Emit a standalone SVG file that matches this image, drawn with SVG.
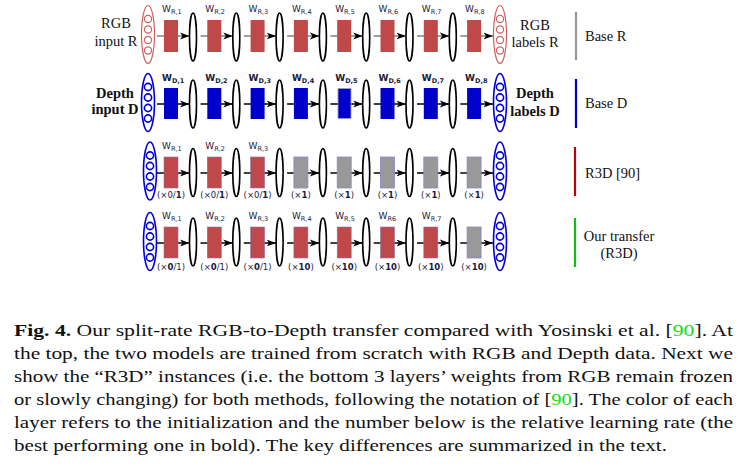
<svg xmlns="http://www.w3.org/2000/svg" xmlns:xlink="http://www.w3.org/1999/xlink" width="744" height="469" viewBox="0 0 744 469">
<style>
.bg{fill:#fff}
.lbl{font-family:"Liberation Serif","Times New Roman",serif;font-size:14.5px;fill:#111}
.lblb{font-family:"Liberation Serif","Times New Roman",serif;font-size:14.5px;font-weight:bold;fill:#111}
.w{font-family:"DejaVu Sans",sans-serif;font-size:9px;fill:#1a1a3a}
.wb{font-family:"DejaVu Sans",sans-serif;font-size:9px;font-weight:bold;fill:#1a1a3a}
.sub{font-size:6.5px}
.lr{font-family:"DejaVu Sans",sans-serif;font-size:8.5px;fill:#1a1a3a;text-anchor:middle}
.red{fill:#c04848}
.red2{fill:#c04848;stroke:#9070b0;stroke-width:0.6}
.blue{fill:#0000cc}
.gray{fill:#999;stroke:#8888cc;stroke-width:0.8}
.bel{fill:none;stroke:#000;stroke-width:1.6}
.inR{fill:none;stroke:#d06060;stroke-width:1.2}
.inB{fill:none;stroke:#0000dd;stroke-width:1.6}
.ag{stroke:#808080;stroke-width:1.6;fill:none;marker-end:url(#ah)}
.ak{stroke:#000;stroke-width:1.6;fill:none;marker-end:url(#ah)}
.cap{font-family:"Liberation Serif","Times New Roman",serif;font-size:17px;fill:#111}
.grn{fill:#10e010}
</style>
<defs>
<marker id="ah" markerUnits="userSpaceOnUse" markerWidth="10" markerHeight="8" refX="9.5" refY="4" orient="auto">
<path d="M0,0.5 L9.5,4 L0,7.5 L2.5,4 z" fill="#000"/>
</marker>
<ellipse id="bel" cx="0" cy="0" rx="3.5" ry="24" class="bel"/>
<g id="inRed"><ellipse cx="0" cy="0" rx="6.5" ry="29" class="inR"/><circle cx="0" cy="-15.5" r="3.6" class="inR"/><circle cx="0" cy="-5" r="3.6" class="inR"/><circle cx="0" cy="5.5" r="3.6" class="inR"/><circle cx="0" cy="16" r="3.6" class="inR"/></g>
<g id="inBlue"><ellipse cx="0" cy="0" rx="6.5" ry="29" class="inB"/><circle cx="0" cy="-15.5" r="3.6" class="inB"/><circle cx="0" cy="-5" r="3.6" class="inB"/><circle cx="0" cy="5.5" r="3.6" class="inB"/><circle cx="0" cy="16" r="3.6" class="inB"/></g>
</defs>
<rect class="bg" x="0" y="0" width="744" height="469"/>

<!-- connectors -->
<g id="connectors">
<g id="c-row1">
<path class="ag" d="M157,36H189.5"/><path class="ag" d="M200.5,36H232.8"/><path class="ag" d="M243.8,36H276.1"/><path class="ag" d="M287.1,36H319.4"/><path class="ag" d="M330.4,36H362.7"/><path class="ag" d="M373.7,36H406"/><path class="ag" d="M417,36H449.3"/><path class="ag" d="M460.3,36H493"/>
</g>
<g id="c-row2">
<path class="ak" d="M157,104H189.5"/><path class="ak" d="M200.5,104H232.8"/><path class="ak" d="M243.8,104H276.1"/><path class="ak" d="M287.1,104H319.4"/><path class="ak" d="M330.4,104H362.7"/><path class="ak" d="M373.7,104H406"/><path class="ak" d="M417,104H449.3"/><path class="ak" d="M460.3,104H493"/>
</g>
<g id="c-row3">
<path class="ak" d="M157,173H189.5"/><path class="ak" d="M200.5,173H232.8"/><path class="ak" d="M243.8,173H276.1"/><path class="ak" d="M287.1,173H319.4"/><path class="ak" d="M330.4,173H362.7"/><path class="ak" d="M373.7,173H406"/><path class="ak" d="M417,173H449.3"/><path class="ak" d="M460.3,173H493"/>
</g>
<g id="c-row4">
<path class="ak" d="M157,243H189.5"/><path class="ak" d="M200.5,243H232.8"/><path class="ak" d="M243.8,243H276.1"/><path class="ak" d="M287.1,243H319.4"/><path class="ak" d="M330.4,243H362.7"/><path class="ak" d="M373.7,243H406"/><path class="ak" d="M417,243H449.3"/><path class="ak" d="M460.3,243H493"/>
</g>
</g>

<!-- Row 1: Base R -->
<g id="row1">
<g id="r1-input"><use xlink:href="#inRed" x="148" y="34.5"/><text class="lbl" x="116" y="27.5" text-anchor="middle">RGB</text><text class="lbl" x="116" y="45.5" text-anchor="middle">input R</text></g>
<g id="r1-l1"><rect class="red" x="164" y="20" width="14" height="32"/><text class="w" x="162" y="12">W<tspan class="sub" dy="1.5">R,1</tspan></text></g>
<g id="r1-l2"><rect class="red" x="207.3" y="20" width="14" height="32"/><text class="w" x="205.3" y="12">W<tspan class="sub" dy="1.5">R,2</tspan></text></g>
<g id="r1-l3"><rect class="red" x="250.6" y="20" width="14" height="32"/><text class="w" x="248.6" y="12">W<tspan class="sub" dy="1.5">R,3</tspan></text></g>
<g id="r1-l4"><rect class="red" x="293.9" y="20" width="14" height="32"/><text class="w" x="291.9" y="12">W<tspan class="sub" dy="1.5">R,4</tspan></text></g>
<g id="r1-l5"><rect class="red" x="337.2" y="20" width="14" height="32"/><text class="w" x="335.2" y="12">W<tspan class="sub" dy="1.5">R,5</tspan></text></g>
<g id="r1-l6"><rect class="red" x="380.5" y="20" width="14" height="32"/><text class="w" x="378.5" y="12">W<tspan class="sub" dy="1.5">R,6</tspan></text></g>
<g id="r1-l7"><rect class="red" x="423.8" y="20" width="14" height="32"/><text class="w" x="421.8" y="12">W<tspan class="sub" dy="1.5">R,7</tspan></text></g>
<g id="r1-l8"><rect class="red" x="467.1" y="20" width="14" height="32"/><text class="w" x="465.1" y="12">W<tspan class="sub" dy="1.5">R,8</tspan></text></g>
<g id="r1-act"><use xlink:href="#bel" x="193" y="37"/><use xlink:href="#bel" x="236.3" y="37"/><use xlink:href="#bel" x="279.6" y="37"/><use xlink:href="#bel" x="322.9" y="37"/><use xlink:href="#bel" x="366.2" y="37"/><use xlink:href="#bel" x="409.5" y="37"/><use xlink:href="#bel" x="452.8" y="37"/></g>
<g id="r1-output"><use xlink:href="#inRed" x="500" y="34.5"/><text class="lbl" x="535" y="29.5" text-anchor="middle">RGB</text><text class="lbl" x="535" y="47" text-anchor="middle">labels R</text></g>
<g id="r1-legend"><line x1="576" y1="12" x2="576" y2="60" stroke="#999" stroke-width="2.2"/><text class="lbl" x="585" y="41">Base R</text></g>
</g>

<!-- Row 2: Base D -->
<g id="row2">
<g id="r2-input"><use xlink:href="#inBlue" x="148" y="102.5"/><text class="lblb" x="115" y="97.5" text-anchor="middle">Depth</text><text class="lblb" x="115" y="114" text-anchor="middle">input D</text></g>
<g id="r2-l1"><rect class="blue" x="164" y="88" width="14" height="31"/><text class="wb" x="162" y="81">W<tspan class="sub" dy="1.5">D,1</tspan></text></g>
<g id="r2-l2"><rect class="blue" x="207.3" y="88" width="14" height="31"/><text class="wb" x="205.3" y="81">W<tspan class="sub" dy="1.5">D,2</tspan></text></g>
<g id="r2-l3"><rect class="blue" x="250.6" y="88" width="14" height="31"/><text class="wb" x="248.6" y="81">W<tspan class="sub" dy="1.5">D,3</tspan></text></g>
<g id="r2-l4"><rect class="blue" x="293.9" y="88" width="14" height="31"/><text class="wb" x="291.9" y="81">W<tspan class="sub" dy="1.5">D,4</tspan></text></g>
<g id="r2-l5"><rect class="blue" x="338" y="88.5" width="13" height="30" stroke="#a0a0c0" stroke-width="0.8"/><text class="wb" x="335.2" y="81">W<tspan class="sub" dy="1.5">D,5</tspan></text></g>
<g id="r2-l6"><rect class="blue" x="380.5" y="88" width="14" height="31"/><text class="wb" x="378.5" y="81">W<tspan class="sub" dy="1.5">D,6</tspan></text></g>
<g id="r2-l7"><rect class="blue" x="423.8" y="88" width="14" height="31"/><text class="wb" x="421.8" y="81">W<tspan class="sub" dy="1.5">D,7</tspan></text></g>
<g id="r2-l8"><rect class="blue" x="467.1" y="88" width="14" height="31"/><text class="wb" x="465.1" y="81">W<tspan class="sub" dy="1.5">D,8</tspan></text></g>
<g id="r2-act"><use xlink:href="#bel" x="193" y="104"/><use xlink:href="#bel" x="236.3" y="104"/><use xlink:href="#bel" x="279.6" y="104"/><use xlink:href="#bel" x="322.9" y="104"/><use xlink:href="#bel" x="366.2" y="104"/><use xlink:href="#bel" x="409.5" y="104"/><use xlink:href="#bel" x="452.8" y="104"/></g>
<g id="r2-output"><use xlink:href="#inBlue" x="500" y="102.5"/><text class="lblb" x="535" y="98" text-anchor="middle">Depth</text><text class="lblb" x="535" y="116" text-anchor="middle">labels D</text></g>
<g id="r2-legend"><line x1="576" y1="79" x2="576" y2="128" stroke="#0000cc" stroke-width="2.2"/><text class="lbl" x="585" y="108">Base D</text></g>
</g>

<!-- Row 3: R3D [90] -->
<g id="row3">
<g id="r3-input"><use xlink:href="#inBlue" x="150" y="171"/></g>
<g id="r3-l1"><rect class="red2" x="164" y="157" width="14" height="31"/><text class="w" x="162" y="149">W<tspan class="sub" dy="1.5">R,1</tspan></text><text class="lr" x="171" y="198">(×0/<tspan font-weight="bold">1</tspan>)</text></g>
<g id="r3-l2"><rect class="red2" x="207.3" y="157" width="14" height="31"/><text class="w" x="205.3" y="149">W<tspan class="sub" dy="1.5">R,2</tspan></text><text class="lr" x="214.3" y="198">(×0/<tspan font-weight="bold">1</tspan>)</text></g>
<g id="r3-l3"><rect class="red2" x="250.6" y="157" width="14" height="31"/><text class="w" x="248.6" y="149">W<tspan class="sub" dy="1.5">R,3</tspan></text><text class="lr" x="257.6" y="198">(×0/<tspan font-weight="bold">1</tspan>)</text></g>
<g id="r3-l4"><rect class="gray" x="293.9" y="157" width="14" height="31"/><text class="lr" x="300.9" y="198">(×<tspan font-weight="bold">1</tspan>)</text></g>
<g id="r3-l5"><rect class="gray" x="337.2" y="157" width="14" height="31"/><text class="lr" x="344.2" y="198">(×<tspan font-weight="bold">1</tspan>)</text></g>
<g id="r3-l6"><rect class="gray" x="380.5" y="157" width="14" height="31"/><text class="lr" x="387.5" y="198">(×<tspan font-weight="bold">1</tspan>)</text></g>
<g id="r3-l7"><rect class="gray" x="423.8" y="157" width="14" height="31"/><text class="lr" x="430.8" y="198">(×<tspan font-weight="bold">1</tspan>)</text></g>
<g id="r3-l8"><rect class="gray" x="467.1" y="157" width="14" height="31"/><text class="lr" x="474.1" y="198">(×<tspan font-weight="bold">1</tspan>)</text></g>
<g id="r3-act"><use xlink:href="#bel" x="193" y="172.5"/><use xlink:href="#bel" x="236.3" y="172.5"/><use xlink:href="#bel" x="279.6" y="172.5"/><use xlink:href="#bel" x="322.9" y="172.5"/><use xlink:href="#bel" x="366.2" y="172.5"/><use xlink:href="#bel" x="409.5" y="172.5"/><use xlink:href="#bel" x="452.8" y="172.5"/></g>
<g id="r3-output"><use xlink:href="#inBlue" x="500" y="171"/></g>
<g id="r3-legend"><line x1="575" y1="147" x2="575" y2="196" stroke="#c00000" stroke-width="2.2"/><text class="lbl" x="585" y="177.5">R3D [90]</text></g>
</g>

<!-- Row 4: Our transfer -->
<g id="row4">
<g id="r4-input"><use xlink:href="#inBlue" x="150" y="241.5"/></g>
<g id="r4-l1"><rect class="red2" x="164" y="227" width="14" height="31"/><text class="w" x="162" y="219">W<tspan class="sub" dy="1.5">R,1</tspan></text><text class="lr" x="171" y="270">(×<tspan font-weight="bold">0</tspan>/1)</text></g>
<g id="r4-l2"><rect class="red2" x="207.3" y="227" width="14" height="31"/><text class="w" x="205.3" y="219">W<tspan class="sub" dy="1.5">R,2</tspan></text><text class="lr" x="214.3" y="270">(×<tspan font-weight="bold">0</tspan>/1)</text></g>
<g id="r4-l3"><rect class="red2" x="250.6" y="227" width="14" height="31"/><text class="w" x="248.6" y="219">W<tspan class="sub" dy="1.5">R,3</tspan></text><text class="lr" x="257.6" y="270">(×<tspan font-weight="bold">0</tspan>/1)</text></g>
<g id="r4-l4"><rect class="red2" x="293.9" y="227" width="14" height="31"/><text class="w" x="291.9" y="219">W<tspan class="sub" dy="1.5">R,4</tspan></text><text class="lr" x="300.9" y="270">(×<tspan font-weight="bold">10</tspan>)</text></g>
<g id="r4-l5"><rect class="red2" x="337.2" y="227" width="14" height="31"/><text class="w" x="335.2" y="219">W<tspan class="sub" dy="1.5">R,5</tspan></text><text class="lr" x="344.2" y="270">(×<tspan font-weight="bold">10</tspan>)</text></g>
<g id="r4-l6"><rect class="red2" x="380.5" y="227" width="14" height="31"/><text class="w" x="378.5" y="219">W<tspan class="sub" dy="1.5">R6</tspan></text><text class="lr" x="387.5" y="270">(×<tspan font-weight="bold">10</tspan>)</text></g>
<g id="r4-l7"><rect class="red2" x="423.8" y="227" width="14" height="31"/><text class="w" x="421.8" y="219">W<tspan class="sub" dy="1.5">R,7</tspan></text><text class="lr" x="430.8" y="270">(×<tspan font-weight="bold">10</tspan>)</text></g>
<g id="r4-l8"><rect class="gray" x="467.1" y="227" width="14" height="31"/><text class="lr" x="474.1" y="270">(×<tspan font-weight="bold">10</tspan>)</text></g>
<g id="r4-act"><use xlink:href="#bel" x="193" y="242"/><use xlink:href="#bel" x="236.3" y="242"/><use xlink:href="#bel" x="279.6" y="242"/><use xlink:href="#bel" x="322.9" y="242"/><use xlink:href="#bel" x="366.2" y="242"/><use xlink:href="#bel" x="409.5" y="242"/><use xlink:href="#bel" x="452.8" y="242"/></g>
<g id="r4-output"><use xlink:href="#inBlue" x="500" y="241.5"/></g>
<g id="r4-legend"><line x1="575" y1="218" x2="575" y2="267" stroke="#10c010" stroke-width="2.2"/><text class="lbl" x="619" y="240.5" text-anchor="middle">Our transfer</text><text class="lbl" x="619" y="258" text-anchor="middle">(R3D)</text></g>
</g>

<!-- Caption -->
<g id="caption">
<text class="cap" x="14" y="336" textLength="719" lengthAdjust="spacingAndGlyphs"><tspan font-weight="bold">Fig. 4.</tspan> Our split-rate RGB-to-Depth transfer compared with Yosinski et al. [<tspan class="grn">90</tspan>]. At</text>
<text class="cap" x="14" y="359" textLength="719" lengthAdjust="spacingAndGlyphs">the top, the two models are trained from scratch with RGB and Depth data. Next we</text>
<text class="cap" x="14" y="382" textLength="719" lengthAdjust="spacingAndGlyphs">show the “R3D” instances (i.e. the bottom 3 layers’ weights from RGB remain frozen</text>
<text class="cap" x="14" y="405" textLength="719" lengthAdjust="spacingAndGlyphs">or slowly changing) for both methods, following the notation of [<tspan class="grn">90</tspan>]. The color of each</text>
<text class="cap" x="14" y="428" textLength="719" lengthAdjust="spacingAndGlyphs">layer refers to the initialization and the number below is the relative learning rate (the</text>
<text class="cap" x="14" y="451" textLength="653" lengthAdjust="spacingAndGlyphs">best performing one in bold). The key differences are summarized in the text.</text>
</g>
</svg>
